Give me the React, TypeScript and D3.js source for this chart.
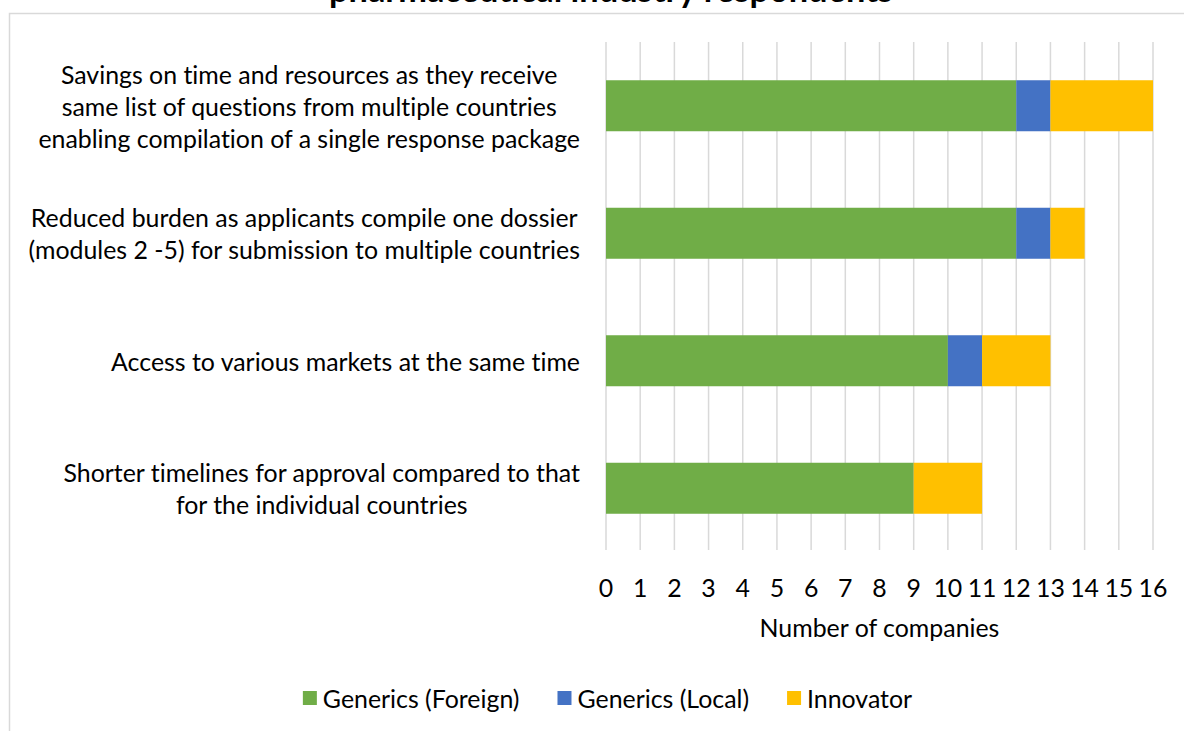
import React, { useEffect, useRef } from "react";
import * as d3 from "d3";

const categories: string[][] = [
  ["Savings on time and resources as they receive", "same list of questions from multiple countries", "enabling compilation of a single response package"],
  ["Reduced burden as applicants compile one dossier", "(modules 2 -5) for submission to multiple countries"],
  ["Access to various markets at the same time"],
  ["Shorter timelines for approval compared to that", "for the individual countries"],
];
const seriesNames = ["Generics (Foreign)", "Generics (Local)", "Innovator"];
const genericsForeign = [12, 12, 10, 9];
const genericsLocal = [1, 1, 1, 0];
const innovator = [3, 1, 2, 2];
const xTicks = [0, 1, 2, 3, 4, 5, 6, 7, 8, 9, 10, 11, 12, 13, 14, 15, 16];
const colors = ["#70AD47", "#4472C4", "#FFC000"];
const titleText = "pharmaceutical industry respondents";
const axisTitle = "Number of companies";

const W = 1184;
const H = 731;
const FONT = "Lato, 'Noto Sans', sans-serif";

export default function App() {
  const ref = useRef<SVGSVGElement | null>(null);

  useEffect(() => {
    const svg = d3.select(ref.current);
    svg.selectAll("*").remove();
    svg.style("font-variant-ligatures", "none").style("font-feature-settings", "'liga' 0, 'clig' 0");

    // measure for font scaling
    const probe = svg.append("text").attr("font-family", FONT).attr("font-size", 24).text(categories[0][2]);
    const w0 = (probe.node() as SVGTextElement).getComputedTextLength();
    probe.remove();
    const fs = 24 * (542 / w0);

    const tprobe = svg.append("text").attr("font-family", FONT).attr("font-weight", "bold").attr("font-size", 28).text(titleText);
    const tw = (tprobe.node() as SVGTextElement).getComputedTextLength();
    tprobe.remove();
    const tfs = 28 * (564 / tw);

    // frame
    svg.append("rect")
      .attr("x", 9.5).attr("y", 13.5).attr("width", W).attr("height", H)
      .attr("fill", "none").attr("stroke", "#d9d9d9").attr("stroke-width", 1.5);

    // title (cut off at top, as in the reference)
    svg.append("text")
      .attr("x", 611).attr("y", 2)
      .attr("text-anchor", "middle")
      .attr("font-family", FONT).attr("font-weight", "bold").attr("font-size", tfs)
      .attr("fill", "#000")
      .text(titleText);

    const x = d3.scaleLinear().domain([0, 16]).range([606, 1153]);
    const y = d3.scaleBand<number>()
      .domain(categories.map((_, i) => i))
      .range([42, 552])
      .paddingInner(0.6)
      .paddingOuter(0.3);

    // gridlines
    svg.append("g").selectAll("line").data(xTicks).join("line")
      .attr("x1", (d) => x(d)).attr("x2", (d) => x(d))
      .attr("y1", 42).attr("y2", 550)
      .attr("stroke", "#d9d9d9").attr("stroke-width", 1.5);

    // stacked bars
    const table = categories.map((_, i) => ({
      idx: i,
      s0: genericsForeign[i],
      s1: genericsLocal[i],
      s2: innovator[i],
    }));
    const stack = d3.stack<any>().keys(["s0", "s1", "s2"]);
    const layers = stack(table);
    layers.forEach((layer, li) => {
      svg.append("g").selectAll("rect").data(layer).join("rect")
        .attr("x", (d) => x(d[0]))
        .attr("width", (d) => Math.max(0, x(d[1]) - x(d[0])))
        .attr("y", (d) => y(d.data.idx) as number)
        .attr("height", y.bandwidth())
        .attr("fill", colors[li]);
    });

    // category labels
    const lineH = fs * 1.29;
    const labelRight = 580;
    categories.forEach((lines, i) => {
      const g = svg.append("g");
      const texts = lines.map((l) =>
        g.append("text").attr("font-family", FONT).attr("font-size", fs).attr("fill", "#000").text(l)
      );
      const maxW = d3.max(texts, (t) => (t.node() as SVGTextElement).getComputedTextLength()) || 0;
      const cx = labelRight - maxW / 2;
      const cy = (y(i) as number) + y.bandwidth() / 2;
      texts.forEach((t, li) => {
        t.attr("x", cx)
          .attr("y", cy + (li - (lines.length - 1) / 2) * lineH)
          .attr("text-anchor", "middle")
          .attr("dominant-baseline", "central");
      });
    });

    // x tick labels
    svg.append("g").selectAll("text").data(xTicks).join("text")
      .attr("x", (d) => x(d)).attr("y", 587)
      .attr("text-anchor", "middle").attr("dominant-baseline", "central")
      .attr("font-family", FONT).attr("font-size", fs).attr("fill", "#000")
      .text((d) => String(d));

    // axis title
    svg.append("text")
      .attr("x", (x(0) + x(16)) / 2).attr("y", 627)
      .attr("text-anchor", "middle").attr("dominant-baseline", "central")
      .attr("font-family", FONT).attr("font-size", fs).attr("fill", "#000")
      .text(axisTitle);

    // legend
    const lg = svg.append("g");
    const sq = 14;
    const gapSq = 6;
    const gapItem = 38;
    let cursor = 0;
    const items: { g: any; w: number }[] = [];
    seriesNames.forEach((name, i) => {
      const ig = lg.append("g");
      ig.append("rect").attr("x", 0).attr("y", -sq / 2).attr("width", sq).attr("height", sq).attr("fill", colors[i]);
      const t = ig.append("text").attr("x", sq + gapSq).attr("y", 0)
        .attr("dominant-baseline", "central")
        .attr("font-family", FONT).attr("font-size", fs).attr("fill", "#000").text(name);
      const tw2 = (t.node() as SVGTextElement).getComputedTextLength();
      items.push({ g: ig, w: sq + gapSq + tw2 });
    });
    const total = d3.sum(items, (d) => d.w) + gapItem * (items.length - 1);
    cursor = 607.5 - total / 2;
    items.forEach((it) => {
      it.g.attr("transform", `translate(${cursor},698)`);
      cursor += it.w + gapItem;
    });
  }, []);

  return (
    <svg
      ref={ref}
      width={W}
      height={H}
      style={{ position: "absolute", left: 0, top: 0, background: "#fff" }}
    />
  );
}
